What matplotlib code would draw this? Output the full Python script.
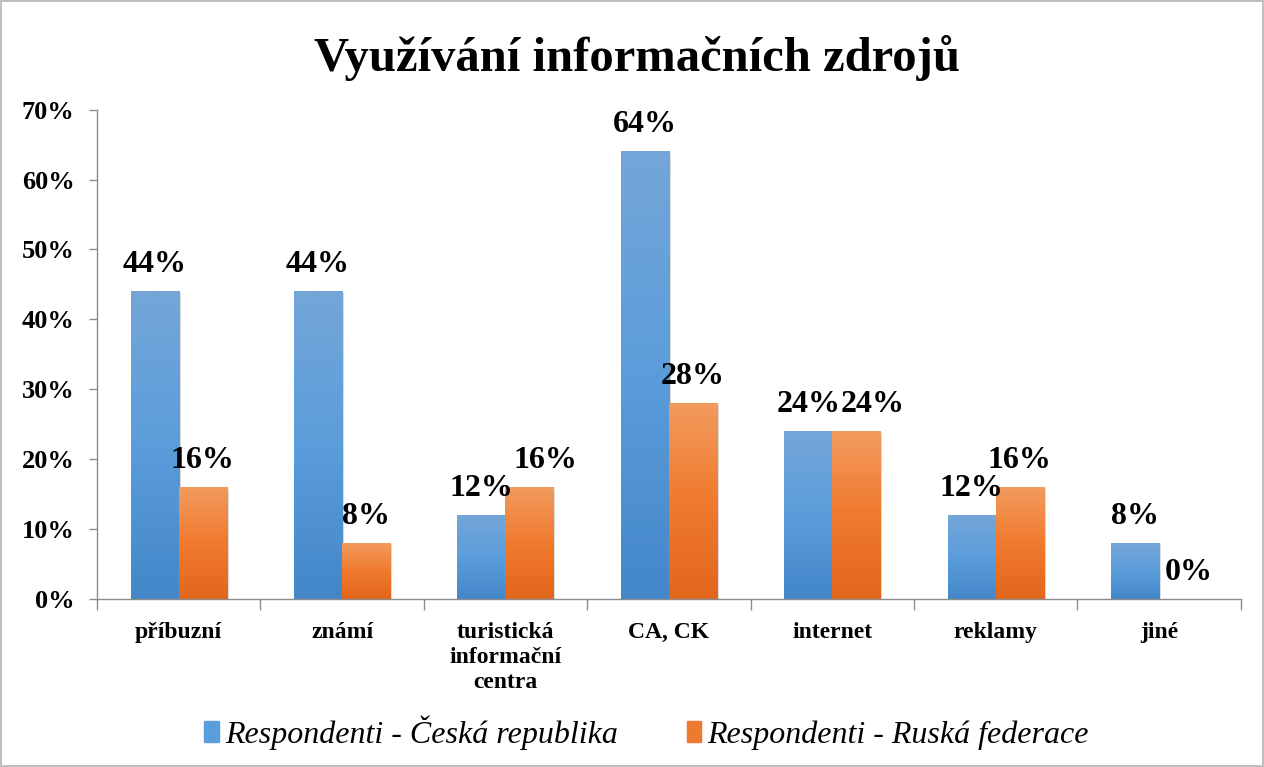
import numpy as np
import matplotlib.pyplot as plt
from matplotlib.colors import LinearSegmentedColormap
from matplotlib.patches import Rectangle
from matplotlib.ticker import FixedLocator, PercentFormatter

# data
categories = ['příbuzní', 'známí', 'turistická\ninformační\ncentra', 'CA, CK',
              'internet', 'reklamy', 'jiné']
cz = [0.44, 0.44, 0.12, 0.64, 0.24, 0.12, 0.08]
ru = [0.16, 0.08, 0.16, 0.28, 0.24, 0.16, 0.00]
series_names = ['Respondenti - Česká republika', 'Respondenti - Ruská federace']

# small sideways nudges (points) for the orange labels, as in the original
ru_label_dx = [0, 0, 11.5, 0, 11.5, 0, 4]

plt.rcParams['font.family'] = ['Liberation Serif', 'DejaVu Serif']

fig = plt.figure(figsize=(12.64, 7.67), dpi=100)
fig.patch.set_edgecolor('#bfbfbf')
fig.patch.set_linewidth(1.5)
ax = fig.add_axes([0.0767, 0.219, 0.905, 0.638])

blue_cm = LinearSegmentedColormap.from_list('b', ['#4487c9', '#5b9ddb', '#74a6d8'])
orange_cm = LinearSegmentedColormap.from_list('o', ['#e2661b', '#f07a2e', '#f29b5d'])
grad = np.linspace(0, 1, 256).reshape(-1, 1)

w = 0.294
x = np.arange(len(categories))


def gradient_bar(x0, h, cmap):
    if h <= 0:
        return
    # soft shadow
    ax.add_patch(Rectangle((x0 + 0.012, 0), w, h - 0.002, color='#999999',
                           alpha=0.35, lw=0, zorder=1))
    ax.imshow(grad, cmap=cmap, origin='lower', aspect='auto',
              extent=[x0, x0 + w, 0, h], zorder=2)


for i in range(len(categories)):
    gradient_bar(x[i] - w, cz[i], blue_cm)
    gradient_bar(x[i], ru[i], orange_cm)
    for xc, v, dx in [(x[i] - w / 2, cz[i], 0), (x[i] + w / 2, ru[i], ru_label_dx[i])]:
        ax.annotate(f'{v:.0%}', (xc, v), xytext=(dx, 9), textcoords='offset points',
                    ha='center', va='bottom', fontsize=23, fontweight='bold')

ax.set_xlim(-0.5, len(categories) - 0.5)
ax.set_ylim(0, 0.7)
ax.set_yticks(np.arange(0, 0.71, 0.1))
ax.yaxis.set_major_formatter(PercentFormatter(1.0, decimals=0))
ax.tick_params(axis='y', labelsize=19, length=6, color='#8c8c8c', width=1, pad=10)
for t in ax.get_yticklabels():
    t.set_fontweight('bold')

ax.set_xticks(x)
ax.set_xticklabels(categories, fontsize=17, fontweight='bold', linespacing=1.25)
ax.tick_params(axis='x', length=0, pad=16.5)
ax.xaxis.set_minor_locator(FixedLocator(np.arange(-0.5, len(categories), 1)))
ax.tick_params(axis='x', which='minor', length=8, color='#8c8c8c', width=1)

for s in ['top', 'right']:
    ax.spines[s].set_visible(False)
for s in ['left', 'bottom']:
    ax.spines[s].set_color('#8c8c8c')
    ax.spines[s].set_linewidth(1)

fig.text(0.504, 0.925, 'Využívání informačních zdrojů', ha='center', va='center',
         fontsize=35, fontweight='bold')

handles = [Rectangle((0, 0), 1, 1, color='#5b9ddb'), Rectangle((0, 0), 1, 1, color='#ef7a2f')]
fig.legend(handles, series_names, loc='center', bbox_to_anchor=(0.5115, 0.045), ncol=2,
           frameon=False, prop={'style': 'italic', 'size': 23}, handlelength=0.45,
           handleheight=0.6, handletextpad=0.2, columnspacing=2.15)

fig.savefig('out.png', dpi=100, edgecolor=fig.get_edgecolor())
